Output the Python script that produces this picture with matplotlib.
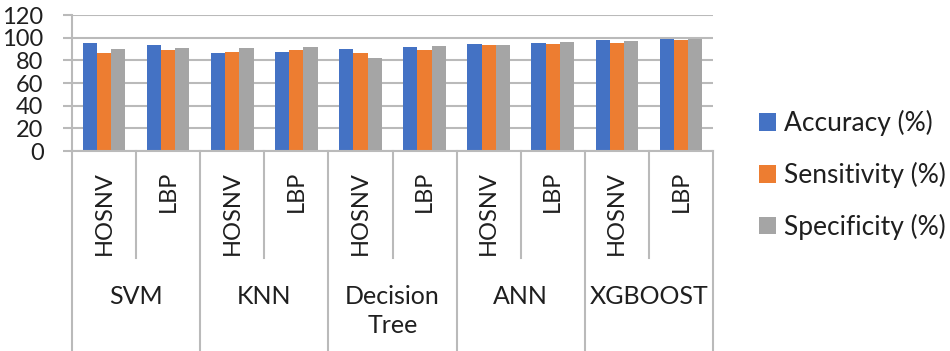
import numpy as np
import matplotlib.pyplot as plt
from matplotlib.patches import Patch
import matplotlib.transforms as mtransforms

plt.rcParams['font.family'] = ['Lato', 'DejaVu Sans']

models = ['SVM', 'KNN', 'Decision\nTree', 'ANN', 'XGBOOST']
features = ['HOSNV', 'LBP']
series = ['Accuracy (%)', 'Sensitivity (%)', 'Specificity (%)']
colors = ['#4472C4', '#ED7D31', '#A5A5A5']

# ordem: SVM-HOSNV, SVM-LBP, KNN-HOSNV, ... XGBOOST-LBP
accuracy = [95.3, 93.8, 86.4, 87.3, 89.7, 92.0, 94.4, 95.3, 97.9, 98.8]
sensitivity = [86.4, 89.4, 87.6, 89.1, 86.4, 89.4, 93.5, 94.1, 95.3, 98.2]
specificity = [90.3, 91.2, 90.5, 91.8, 82.0, 92.9, 93.5, 96.2, 96.7, 98.5]

W, H = 950, 351
fig = plt.figure(figsize=(W / 100, H / 100), dpi=100)
left, right, top, bottom = 72, 713, 15, 151
ax = fig.add_axes([left / W, 1 - bottom / H, (right - left) / W, (bottom - top) / H])

grid_c = '#bababa'
txt_c = '#1f1f1f'
fs = 17

n = len(accuracy)
x = np.arange(n)
w = 0.222
for k, vals in enumerate([accuracy, sensitivity, specificity]):
    ax.bar(x + (k - 1) * w, vals, width=w, color=colors[k], zorder=3)

ax.set_xlim(-0.5, n - 0.5)
ax.set_ylim(0, 120)
ax.set_yticks(np.arange(0, 121, 20))
ax.yaxis.grid(True, color=grid_c, linewidth=1.5, zorder=0)
ax.set_xticks([])
for s in ['top', 'right', 'bottom']:
    ax.spines[s].set_visible(False)
ax.spines['left'].set_color(grid_c)
ax.spines['left'].set_linewidth(1.5)
ax.tick_params(axis='y', length=6.5, width=1.5, color=grid_c, pad=14,
               labelsize=fs, labelcolor=txt_c)
ax.axhline(0, color=grid_c, linewidth=1.5, zorder=4, clip_on=False)

# rótulos de categoria em dois níveis
trans = mtransforms.blended_transform_factory(ax.transData, ax.transAxes)
h_ax = bottom - top
inner_end = -(258 - bottom) / h_ax
outer_end = -(H - bottom + 2) / h_ax
for i in range(len(models) + 1):
    ax.plot([2 * i - 0.5] * 2, [0, outer_end], color=grid_c, lw=1.5,
            transform=trans, clip_on=False)
for i in range(len(models)):
    ax.plot([2 * i + 0.5] * 2, [0, inner_end], color=grid_c, lw=1.5,
            transform=trans, clip_on=False)
    for j, f in enumerate(features):
        ax.text(2 * i + j, -(171 - bottom) / h_ax, f, rotation=90, ha='center',
                va='top', fontsize=fs, color=txt_c, transform=trans)
    ax.text(2 * i + 0.5, -(285 - bottom) / h_ax, models[i], ha='center',
            va='top', fontsize=18, color=txt_c, linespacing=1.3,
            transform=trans)

handles = [Patch(facecolor=c) for c in colors]
fig.legend(handles, series, loc='center left', bbox_to_anchor=(759 / W, 1 - 175 / H),
           frameon=False, fontsize=19, handlelength=0.64, handleheight=0.64,
           handletextpad=0.3, labelspacing=0.97, borderpad=0, borderaxespad=0,
           labelcolor=txt_c)

fig.savefig('out.png', dpi=100)
